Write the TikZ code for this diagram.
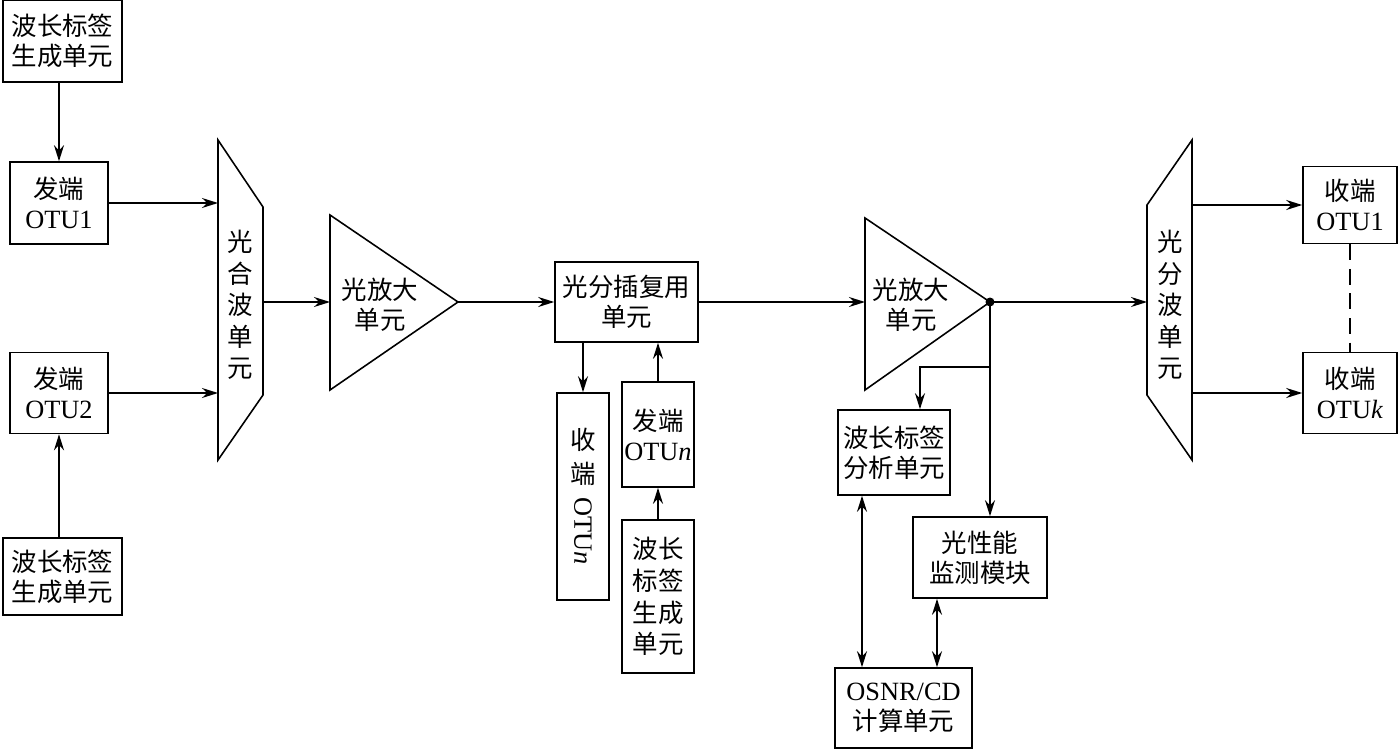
\documentclass[tikz,border=0pt]{standalone}
\usepackage{fontspec}
\usepackage{graphicx}
\setmainfont{Liberation Serif}
\newfontfamily\cjk{Noto Sans CJK SC}
\usetikzlibrary{arrows.meta}

\tikzset{
  blk/.style={draw, line width=0.9pt, align=center, inner sep=0pt,
    font=\cjk\fontsize{14.5}{17}\selectfont},
  vtxt/.style={align=center, inner sep=0pt,
    font=\cjk\fontsize{14.5}{18}\selectfont},
  arr/.style={-{Stealth[length=3.2mm, width=2mm]}},
  darr/.style={{Stealth[length=3.2mm, width=2mm]}-{Stealth[length=3.2mm, width=2mm]}}
}
\newcommand{\lat}[1]{{\rmfamily\fontsize{15}{17}\selectfont #1}}

\begin{document}
\begin{tikzpicture}[x=0.02cm, y=-0.02cm, line width=0.9pt]

\useasboundingbox (0,0) rectangle (1400,750);

% transmit side
\node[blk, minimum width=2.38cm, minimum height=1.64cm] (gen1) at (62.5,41) {波长标签\\生成单元};
\node[blk, minimum width=1.96cm, minimum height=1.64cm] (tx1) at (59,203) {发端\\\lat{OTU1}};
\node[blk, minimum width=1.96cm, minimum height=1.62cm] (tx2) at (59,393) {发端\\\lat{OTU2}};
\node[blk, minimum width=2.38cm, minimum height=1.54cm] (gen2) at (62.5,576.5) {波长标签\\生成单元};

% multiplexer
\draw (218,140) -- (263,207) -- (263,395) -- (218,460) -- cycle;
\coordinate (muxL) at (218,300);
\coordinate (muxR) at (263,302);
\node[vtxt] (mux) at (240,305) {光\\合\\波\\单\\元};

% first amplifier
\draw (330,215) -- (458,302) -- (330,390) -- cycle;
\coordinate (amp1in) at (330,302);
\coordinate (amp1out) at (458,302);
\node[vtxt, font=\cjk\fontsize{14.5}{17}\selectfont] (amp1) at (380,305) {光放大\\单元};

% add/drop
\node[blk, minimum width=2.86cm, minimum height=1.6cm] (oadm) at (626.5,302) {光分插复用\\单元};
\node[blk, minimum width=1.04cm, minimum height=4.14cm, font=\cjk\fontsize{14.5}{19}\selectfont] (rxn) at (583,496.5)
  {收\\端\\[6pt]\rotatebox[origin=c]{-90}{\lat{OTU\textit{n}}}};
\node[blk, minimum width=1.44cm, minimum height=2.1cm] (txn) at (658,434.5) {发端\\\lat{OTU\textit{n}}};
\node[blk, minimum width=1.44cm, minimum height=3.06cm, font=\cjk\fontsize{14.5}{18}\selectfont] (gen3) at (658,596.5)
  {波长\\标签\\生成\\单元};

% second amplifier
\draw (865,218) -- (990,302) -- (865,390) -- cycle;
\coordinate (amp2in) at (865,302);
\coordinate (dot) at (990,302);
\coordinate (split) at (990,367);
\node[vtxt, font=\cjk\fontsize{14.5}{17}\selectfont] (amp2) at (911,305) {光放大\\单元};
\fill (dot) circle (0.09cm);

% monitoring
\node[blk, minimum width=2.24cm, minimum height=1.7cm] (ana) at (894,452.5) {波长标签\\分析单元};
\node[blk, minimum width=2.68cm, minimum height=1.62cm] (opm) at (980,557.5) {光性能\\监测模块};
\node[blk, minimum width=2.74cm, minimum height=1.6cm] (osnr) at (903.5,708) {\lat{OSNR/CD}\\计算单元};

% demultiplexer
\draw (1147,205) -- (1192,140) -- (1192,460) -- (1147,395) -- cycle;
\coordinate (demuxL) at (1147,302);
\coordinate (demuxR) at (1192,300);
\node[vtxt] (demux) at (1170,305) {光\\分\\波\\单\\元};

% receive side
\node[blk, minimum width=1.88cm, minimum height=1.54cm] (rx1) at (1350,205) {收端\\\lat{OTU1}};
\node[blk, minimum width=1.88cm, minimum height=1.62cm] (rxk) at (1350,393) {收端\\\lat{OTU\textit{k}}};

% connectors
\draw[arr] (gen1.south -| tx1.north) -- (tx1.north);
\draw[arr] (gen2.north -| tx2.south) -- (tx2.south);
\draw[arr] (tx1.east) -- (tx1.east -| muxL);
\draw[arr] (tx2.east) -- (tx2.east -| muxL);
\draw[arr] (muxR) -- (amp1in);
\draw[arr] (amp1out) -- (oadm.west);
\draw[arr] (oadm.east) -- (amp2in);
\draw[arr] (oadm.south -| rxn.north) -- (rxn.north);
\draw[arr] (txn.north) -- (txn.north |- oadm.south);
\draw[arr] (gen3) -- (txn);
\draw[arr] (dot) -- (demuxL);
\draw[arr] (split) -| ([xshift=0.52cm]ana.north);
\draw[arr] (dot) -- (dot |- opm.north);
\draw[darr] ([xshift=-0.64cm]ana.south) -- ([xshift=-0.64cm]ana.south |- osnr.north);
\draw[darr] ([xshift=-0.86cm]opm.south) -- ([xshift=-0.86cm]opm.south |- osnr.north);
\draw[arr] (rx1.west -| demuxR) -- (rx1.west);
\draw[arr] (rxk.west -| demuxR) -- (rxk.west);
\draw[dashed, dash pattern=on 9pt off 5pt] (rx1) -- (rxk);

\end{tikzpicture}
\end{document}
